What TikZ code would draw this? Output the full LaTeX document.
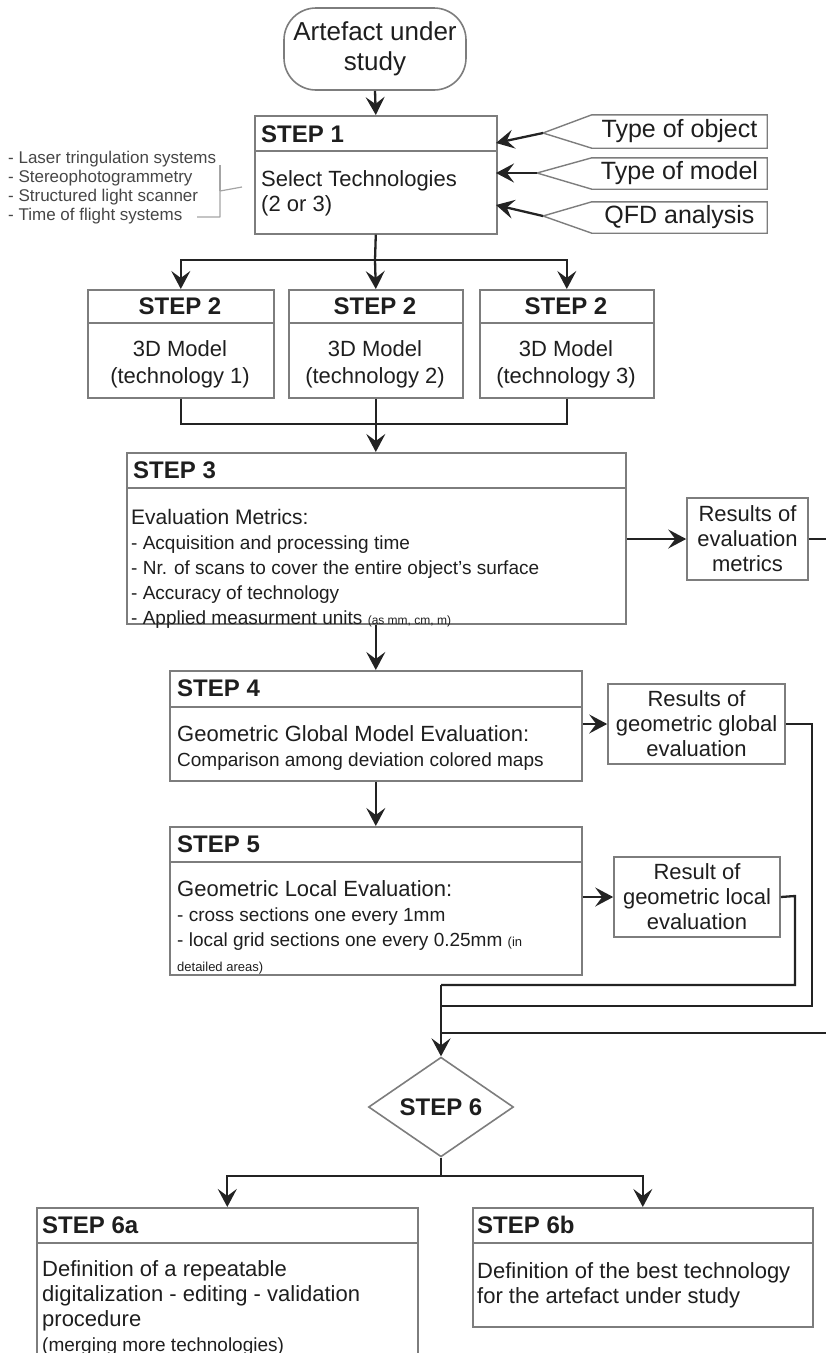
\documentclass[tikz,border=0pt]{standalone}
\usepackage{fontspec}
\setmainfont{Liberation Sans}
\usetikzlibrary{arrows.meta,shapes.geometric}
\definecolor{boxc}{RGB}{125,125,125}
\definecolor{linec}{RGB}{35,35,35}
\definecolor{txt}{RGB}{30,30,30}
\definecolor{notec}{RGB}{70,70,70}
\begin{document}
\begin{tikzpicture}[x=1pt,y=-1pt,
  box/.style={draw=boxc,line width=1.6pt},
  stepbox/.style={box,rectangle,anchor=north west,inner sep=0pt},
  divline/.style={draw=boxc,line width=1.6pt},
  conn/.style={draw=linec,line width=2.3pt},
  arr/.style={conn,-{Stealth[length=18pt,width=19pt,inset=7pt]}},
  hd/.style={font=\fontsize{24}{27}\selectfont\bfseries,text=txt,inner sep=0pt},
  bt/.style={font=\fontsize{22}{25}\selectfont,text=txt,inner sep=0pt,align=left},
  ct/.style={font=\fontsize{22}{25}\selectfont,text=txt,inner sep=0pt,align=center},
  callout/.style={draw=boxc,line width=1.4pt},
  bracec/.style={draw=boxc!70!white,line width=1.2pt,line join=round}
]
\useasboundingbox (0,0) rectangle (826,1353);

% start terminal
\node[box,rectangle,rounded corners=32pt,minimum width=182pt,minimum height=82pt,
      align=center,text=txt,font=\fontsize{26}{30}\selectfont,inner sep=0pt] (art) at (375,49) {Artefact under\\study};

% STEP 1
\node[stepbox,minimum width=242pt,minimum height=118pt] (s1) at (254,115) {};
\draw[divline] (254,151) -- (496,151);
\node[hd,anchor=west] (s1h) at (261,134) {STEP 1};
\node[bt,anchor=north west] (s1t) at (261,170) {Select Technologies\\(2 or 3)};

% left note with brace
\node[anchor=west,inner sep=0pt,align=left,text=notec,font=\fontsize{17}{19}\selectfont] (note) at (8,188)
  {- Laser tringulation systems\\- Stereophotogrammetry\\- Structured light scanner\\- Time of flight systems};
\draw[bracec] (197,217) -- (220,217) -- (220,191) -- (242,187);
\draw[bracec] (220,191) -- (220,165);

% callouts
\node[minimum width=175pt,minimum height=33pt,inner sep=0pt,text=txt,font=\fontsize{25}{28}\selectfont] (co1) at (679.5,131.5) {Type of object};
\node[minimum width=175pt,minimum height=31pt,inner sep=0pt,text=txt,font=\fontsize{25}{28}\selectfont] (co2) at (679.5,173.5) {Type of model};
\node[minimum width=175pt,minimum height=31pt,inner sep=0pt,text=txt,font=\fontsize{25}{28}\selectfont] (co3) at (679.5,217.5) {QFD analysis};
\coordinate (p1) at (543,133);
\coordinate (p2) at (537,173);
\coordinate (p3) at (543,216);
\draw[callout] (p1) -- (co1.north west) -- (co1.north east) -- (co1.south east) -- (co1.south west) -- cycle;
\draw[callout] (p2) -- (co2.north west) -- (co2.north east) -- (co2.south east) -- (co2.south west) -- cycle;
\draw[callout] (p3) -- (co3.north west) -- (co3.north east) -- (co3.south east) -- (co3.south west) -- cycle;
\coordinate (in1) at (496,143);
\coordinate (in2) at (496,173);
\coordinate (in3) at (496,205);
\draw[arr] (p1) -- (in1);
\draw[arr] (p2) -- (in2);
\draw[arr] (p3) -- (in3);

% STEP 2 boxes
\node[stepbox,minimum width=186pt,minimum height=108pt] (s2a) at (87,289) {};
\node[stepbox,minimum width=174pt,minimum height=108pt] (s2b) at (288,289) {};
\node[stepbox,minimum width=174pt,minimum height=108pt] (s2c) at (479,289) {};
\draw[divline] (87,323) -- (273,323);
\draw[divline] (288,323) -- (462,323);
\draw[divline] (479,323) -- (653,323);
\node[hd] (s2ah) at (180,306) {STEP 2};
\node[hd] (s2bh) at (375,306) {STEP 2};
\node[hd] (s2ch) at (566,306) {STEP 2};
\node[ct,anchor=north,font=\fontsize{22}{27}\selectfont] (s2at) at (180,340) {3D Model\\(technology 1)};
\node[ct,anchor=north,font=\fontsize{22}{27}\selectfont] (s2bt) at (375,340) {3D Model\\(technology 2)};
\node[ct,anchor=north,font=\fontsize{22}{27}\selectfont] (s2ct) at (566,340) {3D Model\\(technology 3)};

% STEP 3
\node[stepbox,minimum width=499pt,minimum height=171pt] (s3) at (126,452) {};
\draw[divline] (126,488) -- (625,488);
\node[hd,anchor=west] (s3h) at (133,470) {STEP 3};
\node[bt,anchor=north west] (s3t) at (131,509)
  {\fontsize{21}{23}\selectfont Evaluation Metrics:\\
   \fontsize{19}{22.5}\selectfont - Acquisition and processing time\\
   \fontsize{19}{22.5}\selectfont - Nr. of scans to cover the entire object's surface\\
   \fontsize{19}{22.5}\selectfont - Accuracy of technology\\
   \fontsize{19}{23.5}\selectfont - Applied measurment units {\fontsize{12}{23.5}\selectfont (as mm, cm, m)}};
\node[box,rectangle,minimum width=121pt,minimum height=82pt,inner sep=0pt,ct] (res1) at (747.5,539) {Results of\\evaluation\\metrics};

% STEP 4
\node[stepbox,minimum width=412pt,minimum height=110pt] (s4) at (169,670) {};
\draw[divline] (169,707) -- (581,707);
\node[hd,anchor=west] (s4h) at (177,688.5) {STEP 4};
\node[bt,anchor=north west] (s4t) at (177,725)
  {\fontsize{22}{23}\selectfont Geometric Global Model Evaluation:\\
   \fontsize{19}{23}\selectfont Comparison among deviation colored maps};
\node[box,rectangle,minimum width=177pt,minimum height=80pt,inner sep=0pt,ct] (resG) at (696.5,724) {Results of\\geometric global\\evaluation};

% STEP 5
\node[stepbox,minimum width=412pt,minimum height=148pt] (s5) at (169,826) {};
\draw[divline] (169,862) -- (581,862);
\node[hd,anchor=west] (s5h) at (177,844) {STEP 5};
\node[bt,anchor=north west] (s5t) at (177,880)
  {\fontsize{22}{24}\selectfont Geometric Local Evaluation:\\
   \fontsize{19}{23}\selectfont - cross sections one every 1mm\\
   \fontsize{19}{23}\selectfont - local grid sections one every 0.25mm {\fontsize{13}{23}\selectfont (in}\\
   \fontsize{13}{23}\selectfont detailed areas)};
\node[box,rectangle,minimum width=166pt,minimum height=80pt,inner sep=0pt,ct] (resL) at (697,897) {Result of\\geometric local\\evaluation};

% STEP 6 decision
\node[box,diamond,minimum width=145pt,minimum height=78pt,inner sep=0pt,hd] (d6) at (441,1107) {STEP 6};

% STEP 6a / 6b
\node[stepbox,minimum width=381pt,minimum height=160pt] (s6a) at (36,1207) {};
\node[stepbox,minimum width=340pt,minimum height=119pt] (s6b) at (472,1207) {};
\draw[divline] (36,1243) -- (417,1243);
\draw[divline] (472,1243) -- (812,1243);
\node[hd,anchor=west] (s6ah) at (42,1225) {STEP 6a};
\node[hd,anchor=west] (s6bh) at (477,1225) {STEP 6b};
\node[bt,anchor=north west] (s6at) at (42,1260)
  {Definition of a repeatable\\digitalization - editing - validation\\procedure\\
   \fontsize{19}{21}\selectfont (merging more technologies)};
\node[bt,anchor=north west] (s6bt) at (477,1262)
  {Definition of the best technology\\for the artefact under study};

% ---------- connectors ----------
\draw[arr] (art.south) -- (s1.north);

\coordinate (j1) at (375,260);
\draw[conn] (s1.south) -- (j1);
\draw[arr] (j1) -| (s2a.north);
\draw[arr] (j1) -- (s2b.north);
\draw[arr] (j1) -| (s2c.north);

\coordinate (j2) at (375,424);
\draw[conn] (s2a.south) |- (j2);
\draw[conn] (s2c.south) |- (j2);
\draw[arr] (s2b.south) -- (s3.north -| s2b.south);

\draw[arr] (s3.east |- res1.west) -- (res1.west);
\draw[arr] (s3.south -| s4.north) -- (s4.north);
\draw[arr] (s4.east |- resG.west) -- (resG.west);
\draw[arr] (s4.south) -- (s5.north);
\draw[arr] (s5.east |- resL.west) -- (resL.west);

\coordinate (m1) at (441,985);
\coordinate (m2) at (441,1006);
\coordinate (m3) at (441,1033);
\coordinate (rL) at (795,896);
\coordinate (rG) at (812,724);
\coordinate (r1) at (850,539);
\draw[conn] (resL.east) -- (rL) |- (m1);
\draw[conn] (resG.east) -- (rG) |- (m2);
\draw[conn] (res1.east) -- (r1) |- (m3);
\draw[arr] (m1) -- (d6.north);

\coordinate (j6) at (441,1176);
\draw[conn] (d6.south) -- (j6);
\draw[arr] (j6) -| (s6a.north);
\draw[arr] (j6) -| (s6b.north);
\end{tikzpicture}
\end{document}
